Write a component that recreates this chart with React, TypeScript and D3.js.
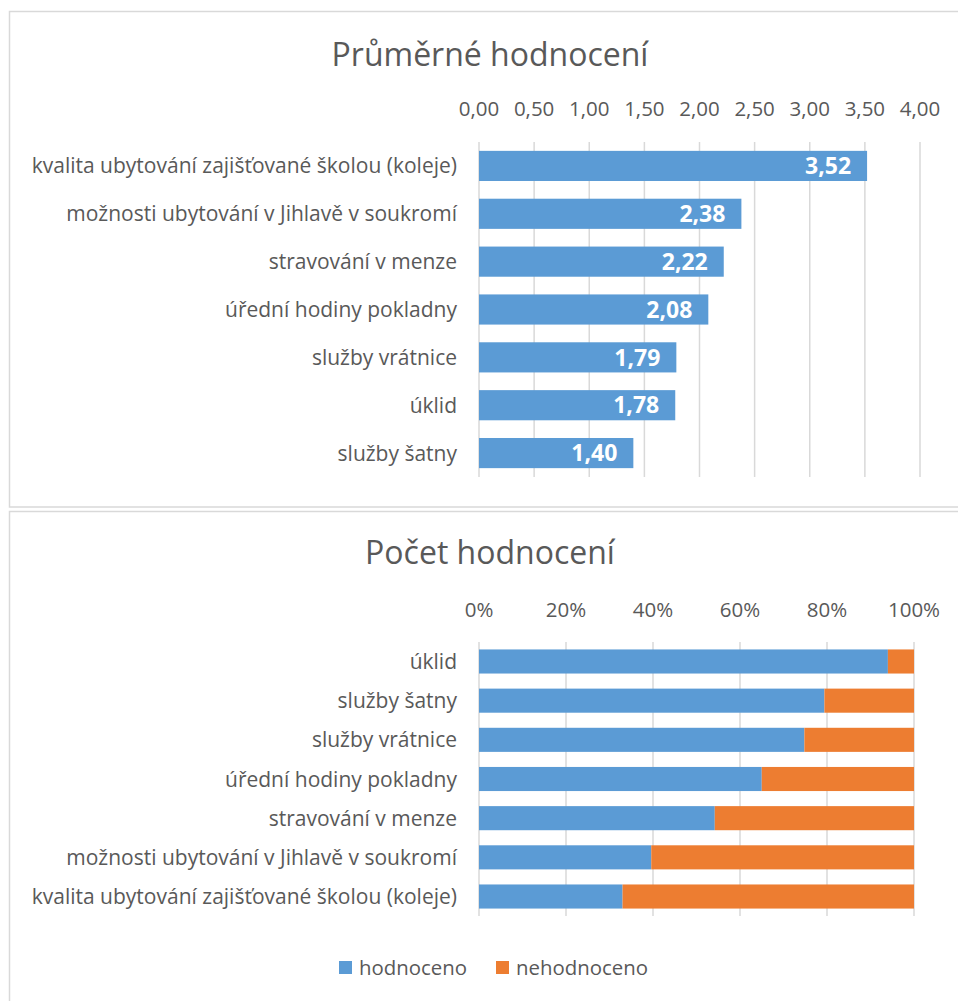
import React from "react";
import * as d3 from "d3";

const avgCategories = [
  "kvalita ubytování zajišťované školou (koleje)",
  "možnosti ubytování v Jihlavě v soukromí",
  "stravování v menze",
  "úřední hodiny pokladny",
  "služby vrátnice",
  "úklid",
  "služby šatny",
];
const avgValues = [3.52, 2.38, 2.22, 2.08, 1.79, 1.78, 1.4];
const avgTicks = [0, 0.5, 1, 1.5, 2, 2.5, 3, 3.5, 4];

const countCategories = [
  "úklid",
  "služby šatny",
  "služby vrátnice",
  "úřední hodiny pokladny",
  "stravování v menze",
  "možnosti ubytování v Jihlavě v soukromí",
  "kvalita ubytování zajišťované školou (koleje)",
];
const hodnoceno = [94, 79.4, 74.8, 65, 54.2, 39.6, 33];
const nehodnoceno = [6, 20.6, 25.2, 35, 45.8, 60.4, 67];
const pctTicks = [0, 20, 40, 60, 80, 100];
const seriesNames = ["hodnoceno", "nehodnoceno"];

const BLUE = "#5b9bd5";
const ORANGE = "#ed7d31";
const GRID = "#d9d9d9";
const TEXT = "#595959";
const FONT = "'Open Sans', 'Noto Sans', sans-serif";

const fmt = (v: number) => v.toFixed(2).replace(".", ",");

export default function App() {
  // top chart
  const x1 = d3.scaleLinear().domain([0, 4]).range([479, 920]);
  const y1 = d3.scaleBand().domain(avgCategories).range([142, 477]).paddingInner(0.37).paddingOuter(0.185);
  // bottom chart
  const x2 = d3.scaleLinear().domain([0, 100]).range([479, 914]);
  const y2 = d3.scaleBand().domain(countCategories).range([642, 916]).paddingInner(0.385).paddingOuter(0.19);

  const stacked = countCategories.map((c, i) => ({ c, h: hodnoceno[i], n: nehodnoceno[i] }));

  return (
    <svg width={958} height={1001} style={{ position: "absolute", left: 0, top: 0 }} fontFamily={FONT}>
      <rect x={0} y={0} width={958} height={1001} fill="#fff" />
      {/* frames */}
      <rect x={9.5} y={11.5} width={960} height={495.5} fill="#fff" stroke={GRID} strokeWidth={1.5} />
      <rect x={9.5} y={511.5} width={960} height={500} fill="#fff" stroke={GRID} strokeWidth={1.5} />

      {/* ---- Top chart ---- */}
      <text x={490} y={66} textAnchor="middle" fontSize={32} fill={TEXT}>Průměrné hodnocení</text>
      {avgTicks.map((t) => (
        <g key={"g1" + t}>
          <line x1={x1(t)} x2={x1(t)} y1={142} y2={477} stroke={GRID} strokeWidth={1.5} />
          <text x={x1(t)} y={116} textAnchor="middle" fontSize={20.5} fill={TEXT}>{fmt(t)}</text>
        </g>
      ))}
      {avgCategories.map((c, i) => (
        <g key={"b1" + c}>
          <rect x={x1(0)} y={y1(c)!} width={x1(avgValues[i]) - x1(0)} height={y1.bandwidth()} fill={BLUE} />
          <text x={x1(avgValues[i]) - 16} y={y1(c)! + y1.bandwidth() / 2} dy="0.36em" textAnchor="end" fontSize={23} fontWeight={700} fill="#fff">{fmt(avgValues[i])}</text>
          <text x={457} y={y1(c)! + y1.bandwidth() / 2} dy="0.36em" textAnchor="end" fontSize={21} fill={TEXT}>{c}</text>
        </g>
      ))}

      {/* ---- Bottom chart ---- */}
      <text x={490} y={564} textAnchor="middle" fontSize={32} fill={TEXT}>Počet hodnocení</text>
      {pctTicks.map((t) => (
        <g key={"g2" + t}>
          <line x1={x2(t)} x2={x2(t)} y1={642} y2={916} stroke={GRID} strokeWidth={1.5} />
          <text x={x2(t)} y={617} textAnchor="middle" fontSize={20.5} fill={TEXT}>{t + "%"}</text>
        </g>
      ))}
      {stacked.map((d) => (
        <g key={"b2" + d.c}>
          <rect x={x2(0)} y={y2(d.c)!} width={x2(d.h) - x2(0)} height={y2.bandwidth()} fill={BLUE} />
          <rect x={x2(d.h)} y={y2(d.c)!} width={x2(d.h + d.n) - x2(d.h)} height={y2.bandwidth()} fill={ORANGE} />
          <text x={457} y={y2(d.c)! + y2.bandwidth() / 2} dy="0.36em" textAnchor="end" fontSize={21} fill={TEXT}>{d.c}</text>
        </g>
      ))}

      {/* legend */}
      <rect x={339} y={961} width={13} height={13} fill={BLUE} />
      <text x={359} y={968} dy="0.36em" fontSize={20.4} fill={TEXT}>{seriesNames[0]}</text>
      <rect x={496} y={961} width={13} height={13} fill={ORANGE} />
      <text x={516} y={968} dy="0.36em" fontSize={20.4} fill={TEXT}>{seriesNames[1]}</text>
    </svg>
  );
}
